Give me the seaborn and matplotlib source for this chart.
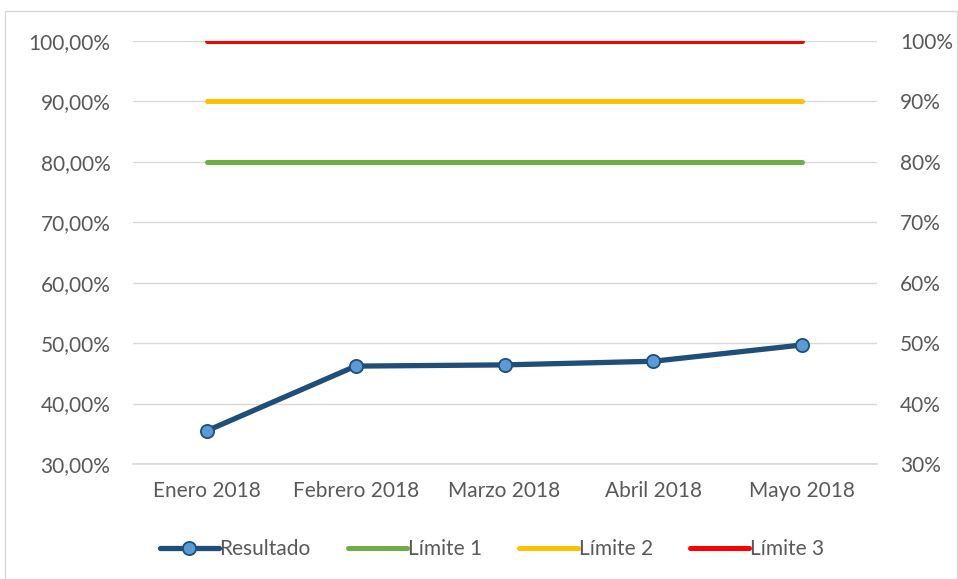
import matplotlib
matplotlib.use("Agg")
import matplotlib.pyplot as plt
import matplotlib.ticker as mticker
from matplotlib.patches import Rectangle
import seaborn as sns
import pandas as pd
import numpy as np

categories = ["Enero 2018", "Febrero 2018", "Marzo 2018", "Abril 2018", "Mayo 2018"]
resultado = [35.5, 46.2, 46.4, 47.0, 49.7]
limite1 = [80, 80, 80, 80, 80]
limite2 = [90, 90, 90, 90, 90]
limite3 = [100, 100, 100, 100, 100]
left_ticks = [30, 40, 50, 60, 70, 80, 90, 100]

sns.set_theme(style="white")
plt.rcParams['font.family'] = ['Lato', 'DejaVu Sans']

FS = 15
fig = plt.figure(figsize=(9.58, 5.79), dpi=100)
ax = fig.add_axes([132.5/958, 1-464/579, (876.5-132.5)/958, (464-41)/579])

x = np.arange(len(categories))
df = pd.DataFrame({"x": x, "Resultado": resultado, "Límite 1": limite1,
                   "Límite 2": limite2, "Límite 3": limite3})

sns.lineplot(data=df, x="x", y="Límite 1", ax=ax, color="#70AD47", lw=3.6, label="Límite 1")
sns.lineplot(data=df, x="x", y="Límite 2", ax=ax, color="#FFC000", lw=3.6, label="Límite 2")
sns.lineplot(data=df, x="x", y="Límite 3", ax=ax, color="#FF0000", lw=3.6, label="Límite 3")
sns.lineplot(data=df, x="x", y="Resultado", ax=ax, color="#1F4E79", lw=3.8, marker="o",
             markersize=9.5, markerfacecolor="#5B9BD5", markeredgecolor="#1F4E79",
             markeredgewidth=1.3, label="Resultado", zorder=5)

ax.set_xlim(-0.5, len(categories) - 0.5)
ax.set_ylim(30, 100)
ax.set_yticks(left_ticks)
ax.yaxis.set_major_formatter(mticker.FuncFormatter(lambda v, p: f"{v:.2f}".replace(".", ",") + "%"))
ax.set_xticks(x)
ax.set_xticklabels(categories)
ax.set_xlabel("")
ax.set_ylabel("")
ax.grid(axis="y", color="#D9D9D9", lw=1)
ax.set_axisbelow(True)
for s in ["top", "right", "left"]:
    ax.spines[s].set_visible(False)
ax.spines["bottom"].set_color("#D9D9D9")
ax.tick_params(axis="both", length=0, labelsize=FS, colors="#595959")
ax.tick_params(axis="y", pad=16)
ax.tick_params(axis="x", pad=12)

ax2 = ax.twinx()
ax2.set_ylim(30, 100)
ax2.set_yticks(left_ticks)
ax2.yaxis.set_major_formatter(mticker.FuncFormatter(lambda v, p: f"{v:.0f}%"))
for s in ax2.spines.values():
    s.set_visible(False)
ax2.tick_params(axis="y", length=0, labelsize=FS, colors="#595959", pad=17)

handles, labels = ax.get_legend_handles_labels()
order = [labels.index(n) for n in ["Resultado", "Límite 1", "Límite 2", "Límite 3"]]
ax.legend([handles[i] for i in order], [labels[i] for i in order],
          loc="center", bbox_to_anchor=(492/958, 1-549/579), bbox_transform=fig.transFigure,
          ncol=4, frameon=False, fontsize=FS, handlelength=2.8, handletextpad=0.05,
          columnspacing=1.8, labelcolor="#595959")

fig.patches.append(Rectangle((5/958, 0), 1 - 6/958, 1 - 11/579, transform=fig.transFigure,
                             fill=False, edgecolor="#D9D9D9", lw=1))

fig.savefig("out.png", dpi=100)
